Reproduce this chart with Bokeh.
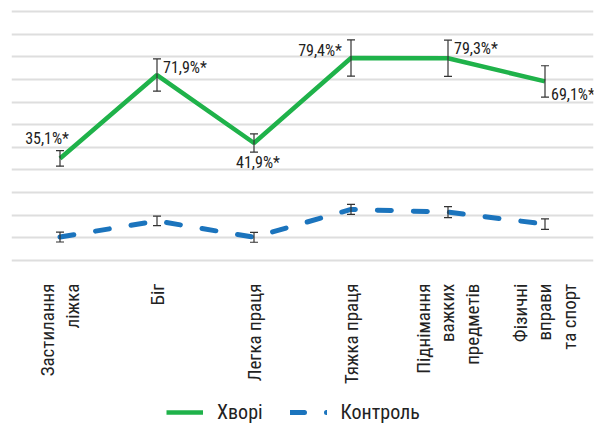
from bokeh.plotting import figure
from bokeh.models import (ColumnDataSource, FactorRange, Range1d, FixedTicker, Whisker,
                          TeeHead, Legend, LegendItem)
from bokeh.embed import file_html
from bokeh.resources import INLINE
from bokeh.core.properties import value
import math

# ---- data ----
categories = ["Застилання\nліжка", "Біг", "Легка праця", "Тяжка праця",
              "Піднімання\nважких\nпредметів", "Фізичні\nвправи\nта спорт"]
patients = [35.1, 71.9, 41.9, 79.4, 79.3, 69.1]
patients_err = [3.4, 7.1, 4.0, 8.0, 8.0, 6.9]
control = [0.4, 7.5, 0.3, 12.6, 11.4, 6.1]
control_err = [2.2, 2.1, 2.2, 2.2, 2.4, 2.3]
series_names = ["Хворі", "Контроль"]
grid_ticks = [-10, 0, 10, 20, 30, 40, 50, 60, 70, 80, 90, 100]

# ---- styles ----
GREEN = "#1fb24a"
BLUE = "#1b74bd"
label_align = ["right", "left", "center", "right", "left", "left"]
label_dx = [9, 6, 4, -9, 6, 6]
label_dy = [-20, -8, 19, -8, -10, 13]

FONT_R = "Roboto Condensed"

p = figure(width=594, height=424, output_backend="svg", toolbar_location=None,
           x_range=FactorRange(factors=categories, range_padding=0),
           y_range=Range1d(-82.35, 104.81),
           min_border_left=11, min_border_right=1, min_border_top=0,
           min_border_bottom=0)
p.outline_line_color = None
p.background_fill_color = "white"
p.border_fill_color = "white"

p.xaxis.visible = False
p.yaxis.visible = False
p.ygrid.ticker = FixedTicker(ticks=grid_ticks)
p.ygrid.grid_line_color = "#dedede"
p.ygrid.grid_line_width = 2
p.xgrid.grid_line_color = None

src = ColumnDataSource(dict(
    x=categories, p=patients,
    p_lo=[v - e for v, e in zip(patients, patients_err)],
    p_hi=[v + e for v, e in zip(patients, patients_err)],
    c=control,
    c_lo=[v - e for v, e in zip(control, control_err)],
    c_hi=[v + e for v, e in zip(control, control_err)],
    lab=[f"{v:.1f}".replace(".", ",") + "%*" for v in patients],
    align=label_align, dx=label_dx, dy=label_dy,
    base=[grid_ticks[0]] * len(categories),
))

r_c = p.line("x", "c", source=src, line_color=BLUE, line_width=5,
             line_dash="14 22", line_cap="round")
r_p = p.line("x", "p", source=src, line_color=GREEN, line_width=4.5)

for lo, hi in (("p_lo", "p_hi"), ("c_lo", "c_hi")):
    w = Whisker(base="x", lower=lo, upper=hi, source=src, level="overlay",
                line_color="#333333", line_width=1.2,
                upper_head=TeeHead(size=8, line_color="#333333", line_width=1.2),
                lower_head=TeeHead(size=8, line_color="#333333", line_width=1.2))
    p.add_layout(w)

# value labels
p.text("x", "p", text="lab", source=src, text_align="align", text_baseline="middle",
       x_offset="dx", y_offset="dy", text_font=value(FONT_R),
       text_font_size="16px", text_color="#222222")

# category labels (rotated, below the lowest grid line)
p.text("x", "base", text="x", source=src, angle=math.pi / 2,
       text_align="right", text_baseline="middle", y_offset=23,
       text_font=value(FONT_R), text_font_size="19px", text_color="#222222",
       text_line_height=1.08)

legend = Legend(items=[LegendItem(label=series_names[0], renderers=[r_p]),
                       LegendItem(label=series_names[1], renderers=[r_c])],
                orientation="horizontal", location=(155, 0),
                border_line_color=None, background_fill_alpha=0,
                label_text_font=FONT_R, label_text_font_size="20px",
                label_text_color="#222222", glyph_width=37, glyph_height=18,
                label_height=18, label_standoff=14,
                spacing=27, padding=0, margin=0)
p.add_layout(legend, "center")

open("out.html", "w").write(file_html(p, INLINE))
